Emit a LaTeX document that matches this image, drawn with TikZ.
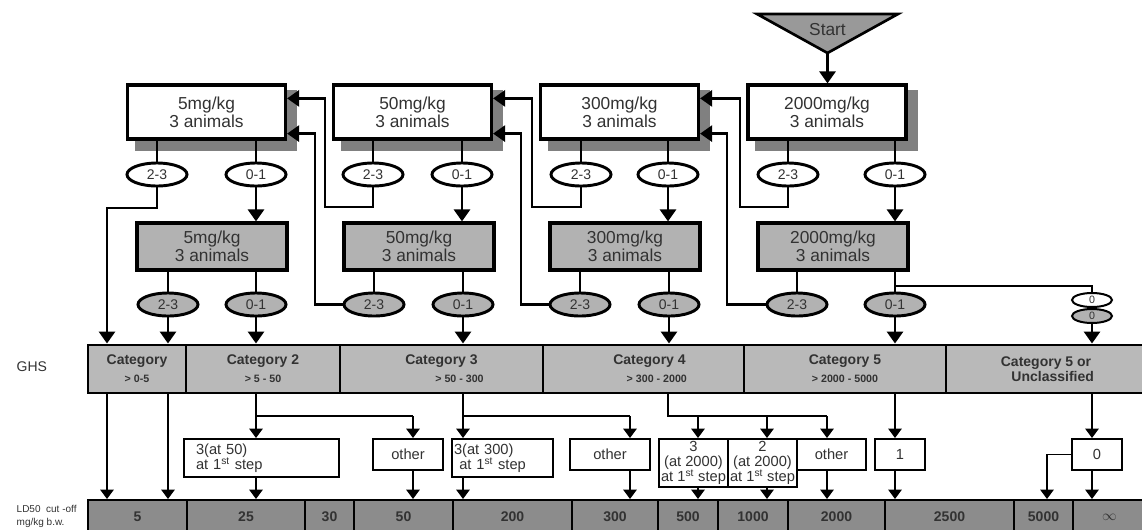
\documentclass[tikz,border=0pt]{standalone}
\usepackage{fontspec}
\setmainfont{Liberation Sans}
\usetikzlibrary{shapes.geometric,arrows.meta,calc}
\pgfdeclarelayer{shade}
\pgfsetlayers{shade,main}
\definecolor{boxgray}{RGB}{178,178,178}
\definecolor{bargray}{RGB}{185,185,185}
\definecolor{lowgray}{RGB}{140,140,140}
\definecolor{shadegray}{RGB}{128,128,128}
\definecolor{startgray}{RGB}{153,153,153}
\definecolor{txt}{RGB}{50,50,50}
\newcommand{\catsub}{\fontsize{8}{8}\selectfont}

\begin{document}
\begin{tikzpicture}[x=0.75pt, y=-0.75pt,
  every node/.style={text=txt},
  dosebox/.style={draw, line width=2.4pt, inner sep=0pt, align=center, font=\fontsize{13}{13.5}\selectfont},
  topbox/.style={dosebox, fill=white, minimum width=118.5pt, minimum height=40.5pt},
  graybox/.style={dosebox, fill=boxgray, minimum width=112.5pt, minimum height=35.25pt},
  oval/.style={ellipse, draw, line width=2.2pt, fill=white, minimum width=45pt, minimum height=17.25pt, inner sep=0pt, font=\fontsize{10.5}{11}\selectfont},
  grayoval/.style={oval, fill=boxgray},
  zerooval/.style={oval, line width=1.5pt, minimum width=30pt, minimum height=10.5pt, font=\fontsize{8}{8}\selectfont},
  ghscell/.style={draw, line width=2.2pt, fill=bargray, minimum height=36pt, inner sep=0pt, align=center, font=\bfseries\fontsize{10.5}{13.5}\selectfont},
  ldcell/.style={draw, line width=1.5pt, fill=lowgray, minimum height=25.5pt, inner sep=0pt, font=\bfseries\fontsize{10.5}{11}\selectfont},
  resbox/.style={draw, line width=1.5pt, fill=white, inner sep=0pt, align=center, font=\fontsize{11}{11.25}\selectfont},
  shade/.style={fill=shadegray},
  link/.style={line width=2.2pt},
  arr/.style={link, -{Triangle[length=9pt, width=12pt]}},
  lowline/.style={line width=1.2pt},
  lowarr/.style={lowline, -{Triangle[length=7pt, width=10pt]}}]
\useasboundingbox (0,0) rectangle (1142,529);

% start
\filldraw[fill=startgray, line width=2pt] (757,14) -- (898,14) -- (827.5,53) -- cycle;
\node[font=\fontsize{13}{13}\selectfont] (start) at (827.5,30) {Start};
\coordinate (apex) at (827.5,53);

% first step, white boxes
\node[topbox] (t1) at (206.5,112) {5mg/kg\\3 animals};
\node[topbox] (t2) at (412.5,112) {50mg/kg\\3 animals};
\node[topbox] (t3) at (619.5,112) {300mg/kg\\3 animals};
\node[topbox] (t4) at (827,112) {2000mg/kg\\3 animals};
\begin{pgfonlayer}{shade}
\fill[shade] ($(t1.south west)+(9,10)$) rectangle ($(t1.north east)+(10,7)$);
\fill[shade] ($(t2.south west)+(9,10)$) rectangle ($(t2.north east)+(10,7)$);
\fill[shade] ($(t3.south west)+(9,10)$) rectangle ($(t3.north east)+(10,7)$);
\fill[shade] ($(t4.south west)+(9,10)$) rectangle ($(t4.north east)+(10,7)$);
\end{pgfonlayer}
\node[oval] (t1a) at (157,174.5) {2-3};
\node[oval] (t1b) at (256,174.5) {0-1};
\node[oval] (t2a) at (373,174.5) {2-3};
\node[oval] (t2b) at (462,174.5) {0-1};
\node[oval] (t3a) at (581,174.5) {2-3};
\node[oval] (t3b) at (668,174.5) {0-1};
\node[oval] (t4a) at (788,174.5) {2-3};
\node[oval] (t4b) at (895,174.5) {0-1};

% second step, gray boxes
\node[graybox] (g1) at (212,246.5) {5mg/kg\\3 animals};
\node[graybox] (g2) at (419,246.5) {50mg/kg\\3 animals};
\node[graybox] (g3) at (625,246.5) {300mg/kg\\3 animals};
\node[graybox] (g4) at (833,246.5) {2000mg/kg\\3 animals};
\node[grayoval] (g1a) at (168,304.5) {2-3};
\node[grayoval] (g1b) at (256,304.5) {0-1};
\node[grayoval] (g2a) at (374,304.5) {2-3};
\node[grayoval] (g2b) at (463,304.5) {0-1};
\node[grayoval] (g3a) at (580,304.5) {2-3};
\node[grayoval] (g3b) at (669,304.5) {0-1};
\node[grayoval] (g4a) at (797,304.5) {2-3};
\node[grayoval] (g4b) at (895,304.5) {0-1};
\node[zerooval] (z1) at (1092,300) {0};
\node[zerooval, fill=boxgray] (z2) at (1092,316) {0};

% GHS row
\node[anchor=west, font=\fontsize{10.5}{11}\selectfont] (ghs) at (12,367) {GHS};
\node[ghscell, minimum width=73.5pt] (c1) at (137,369) {Category\\{\catsub > 0-5}};
\node[ghscell, minimum width=115.5pt] (c2) at (263,369) {Category 2\\{\catsub > 5 - 50}};
\node[ghscell, minimum width=152.25pt] (c3) at (441.5,369) {Category 3\\{\catsub\hspace*{27pt}> 50 - 300}};
\node[ghscell, minimum width=150.75pt] (c4) at (643.5,369) {\hspace*{9pt}Category 4\\{\catsub\hspace*{20pt}> 300 - 2000}};
\node[ghscell, minimum width=151.5pt] (c5) at (845,369) {Category 5\\{\catsub > 2000 - 5000}};
\node[ghscell, minimum width=150pt] (c6) at (1046,369) {Category 5 or\\[-2pt]\hspace*{10pt}Unclassified};

% number of deaths
\node[resbox, minimum width=116.25pt, minimum height=28.5pt, text width=98.25pt, align=left, inner xsep=9pt] (p1) at (261.5,458) {3(at 50)\\at 1\textsuperscript{st} step};
\node[resbox, minimum width=52.5pt, minimum height=23.25pt] (o1) at (408,454.5) {other};
\node[resbox, minimum width=75.75pt, minimum height=28.5pt, text width=72.75pt, align=left, inner xsep=1.5pt] (p2) at (502.5,458) {3(at 300)\\\hspace*{4pt}at 1\textsuperscript{st} step};
\node[resbox, minimum width=60pt, minimum height=23.25pt] (o2) at (610,454.5) {other};
\node[resbox, minimum width=51.75pt, minimum height=36pt] (p3) at (693.5,463) {3\\(at 2000)\\at 1\textsuperscript{st} step};
\node[resbox, minimum width=51.75pt, minimum height=36pt] (p4) at (762.5,463) {2\\(at 2000)\\at 1\textsuperscript{st} step};
\node[resbox, minimum width=51.75pt, minimum height=23.25pt] (o3) at (831.5,454.5) {other};
\node[resbox, minimum width=37.5pt, minimum height=23.25pt] (q1) at (900,454.5) {1};
\node[resbox, minimum width=37.5pt, minimum height=23.25pt] (q2) at (1097,454.5) {0};

% LD50 cut-off row
\node[anchor=west, align=left, font=\fontsize{7.5}{9.75}\selectfont] (ld) at (12,516) {LD50\ \ cut -off\\mg/kg b.w.};
\begin{scope}
\clip (0,0) rectangle (1142,529);
\node[ldcell, minimum width=74.25pt] (b1) at (137.5,517) {5};
\node[ldcell, minimum width=88.5pt] (b2) at (246,517) {25};
\node[ldcell, minimum width=36.75pt] (b3) at (329.5,517) {30};
\node[ldcell, minimum width=74.25pt] (b4) at (403.5,517) {50};
\node[ldcell, minimum width=89.25pt] (b5) at (512.5,517) {200};
\node[ldcell, minimum width=64.5pt] (b6) at (615,517) {300};
\node[ldcell, minimum width=45pt] (b7) at (688,517) {500};
\node[ldcell, minimum width=52.5pt] (b8) at (753,517) {1000};
\node[ldcell, minimum width=72.75pt] (b9) at (836.5,517) {2000};
\node[ldcell, minimum width=96.75pt] (b10) at (949.5,517) {2500};
\node[ldcell, minimum width=44.25pt] (b11) at (1043.5,517) {5000};
\node[ldcell, minimum width=54.75pt] (b12) at (1109.5,517) {$\infty$};
\end{scope}

% upper connectors
\draw[arr] (apex) -- (apex |- t4.north);
\draw[link] (t1a.north) -- (t1a.north |- t1.south);
\draw[link] (t2a.north) -- (t2a.north |- t2.south);
\draw[link] (t3a.north) -- (t3a.north |- t3.south);
\draw[link] (t4a.north) -- (t4a.north |- t4.south);
\draw[link] (t1b.north) -- (t1b.north |- t1.south);
\draw[link] (t2b.north) -- (t2b.north |- t2.south);
\draw[link] (t3b.north) -- (t3b.north |- t3.south);
\draw[link] (t4b.north) -- (t4b.north |- t4.south);
\draw[arr] (t1b.south) -- (t1b.south |- g1.north);
\draw[arr] (t2b.south) -- (t2b.south |- g2.north);
\draw[arr] (t3b.south) -- (t3b.south |- g3.north);
\draw[arr] (t4b.south) -- (t4b.south |- g4.north);
\draw[link] (g1a.north) -- (g1a.north |- g1.south);
\draw[link] (g2a.north) -- (g2a.north |- g2.south);
\draw[link] (g3a.north) -- (g3a.north |- g3.south);
\draw[link] (g4a.north) -- (g4a.north |- g4.south);
\draw[link] (g1b.north) -- (g1b.north |- g1.south);
\draw[link] (g2b.north) -- (g2b.north |- g2.south);
\draw[link] (g3b.north) -- (g3b.north |- g3.south);
\draw[link] (g4b.north) -- (g4b.north |- g4.south);

% back to the lower dose
\coordinate (u2) at (325,207); \coordinate (l2) at (315,304.5);
\coordinate (u3) at (532,207); \coordinate (l3) at (521,304.5);
\coordinate (u4) at (740,207); \coordinate (l4) at (727,304.5);
\draw[arr] (t2a.south) |- (u2) |- ($(t1.north east)+(0,15)$);
\draw[arr] (t3a.south) |- (u3) |- ($(t2.north east)+(0,15)$);
\draw[arr] (t4a.south) |- (u4) |- ($(t3.north east)+(0,15)$);
\draw[arr] (g2a.west) -- (l2) |- ($(t1.south east)+(0,-7)$);
\draw[arr] (g3a.west) -- (l3) |- ($(t2.south east)+(0,-7)$);
\draw[arr] (g4a.west) -- (l4) |- ($(t3.south east)+(0,-7)$);

% into the categories
\coordinate (k1) at (107,208);
\draw[arr] (t1a.south) |- (k1) -- (k1 |- c1.north);
\draw[arr] (g1a.south) -- (g1a.south |- c1.north);
\draw[arr] (g1b.south) -- (g1b.south |- c2.north);
\draw[arr] (g2b.south) -- (g2b.south |- c3.north);
\draw[arr] (g3b.south) -- (g3b.south |- c4.north);
\draw[arr] (g4b.south) -- (g4b.south |- c5.north);
\coordinate (k4) at (895,286);
\draw[line width=1.6pt] (k4) -| (z1.north);
\draw[arr] (z2.south) -- (z2.south |- c6.north);

% lower connectors
\draw[lowarr] (k1 |- c1.south) -- (k1 |- b1.north);
\draw[lowarr] (g1a |- c1.south) -- (g1a |- b1.north);
\coordinate (s2) at (256,416); \coordinate (s2b) at (413,416);
\draw[lowline] (s2 |- c2.south) -- (s2) -- (s2b);
\draw[lowarr] (s2) -- (s2 |- p1.north);
\draw[lowarr] (s2b) -- (s2b |- o1.north);
\draw[lowarr] (s2 |- p1.south) -- (s2 |- b2.north);
\draw[lowarr] (s2b |- o1.south) -- (s2b |- b4.north);
\coordinate (s3) at (463,416); \coordinate (s3b) at (630,416);
\draw[lowline] (s3 |- c3.south) -- (s3) -- (s3b);
\draw[lowarr] (s3) -- (s3 |- p2.north);
\draw[lowarr] (s3b) -- (s3b |- o2.north);
\draw[lowarr] (s3 |- p2.south) -- (s3 |- b5.north);
\draw[lowarr] (s3b |- o2.south) -- (s3b |- b6.north);
\coordinate (s4) at (668,416); \coordinate (s4a) at (698,416);
\coordinate (s4b) at (767,416); \coordinate (s4c) at (827,416);
\draw[lowline] (s4 |- c4.south) -- (s4) -- (s4c);
\draw[lowarr] (s4a) -- (s4a |- p3.north);
\draw[lowarr] (s4b) -- (s4b |- p4.north);
\draw[lowarr] (s4c) -- (s4c |- o3.north);
\draw[lowarr] (s4a |- p3.south) -- (s4a |- b7.north);
\draw[lowarr] (s4b |- p4.south) -- (s4b |- b8.north);
\draw[lowarr] (s4c |- o3.south) -- (s4c |- b9.north);
\draw[lowarr] (g4b |- c5.south) -- (g4b |- q1.north);
\draw[lowarr] (g4b |- q1.south) -- (g4b |- b10.north);
\draw[lowarr] (z2 |- c6.south) -- (z2 |- q2.north);
\draw[lowarr] (z2 |- q2.south) -- (z2 |- b12.north);
\coordinate (s6) at (1047,453);
\draw[lowarr] (q2.west) -| (s6 |- b11.north);
\end{tikzpicture}
\end{document}
